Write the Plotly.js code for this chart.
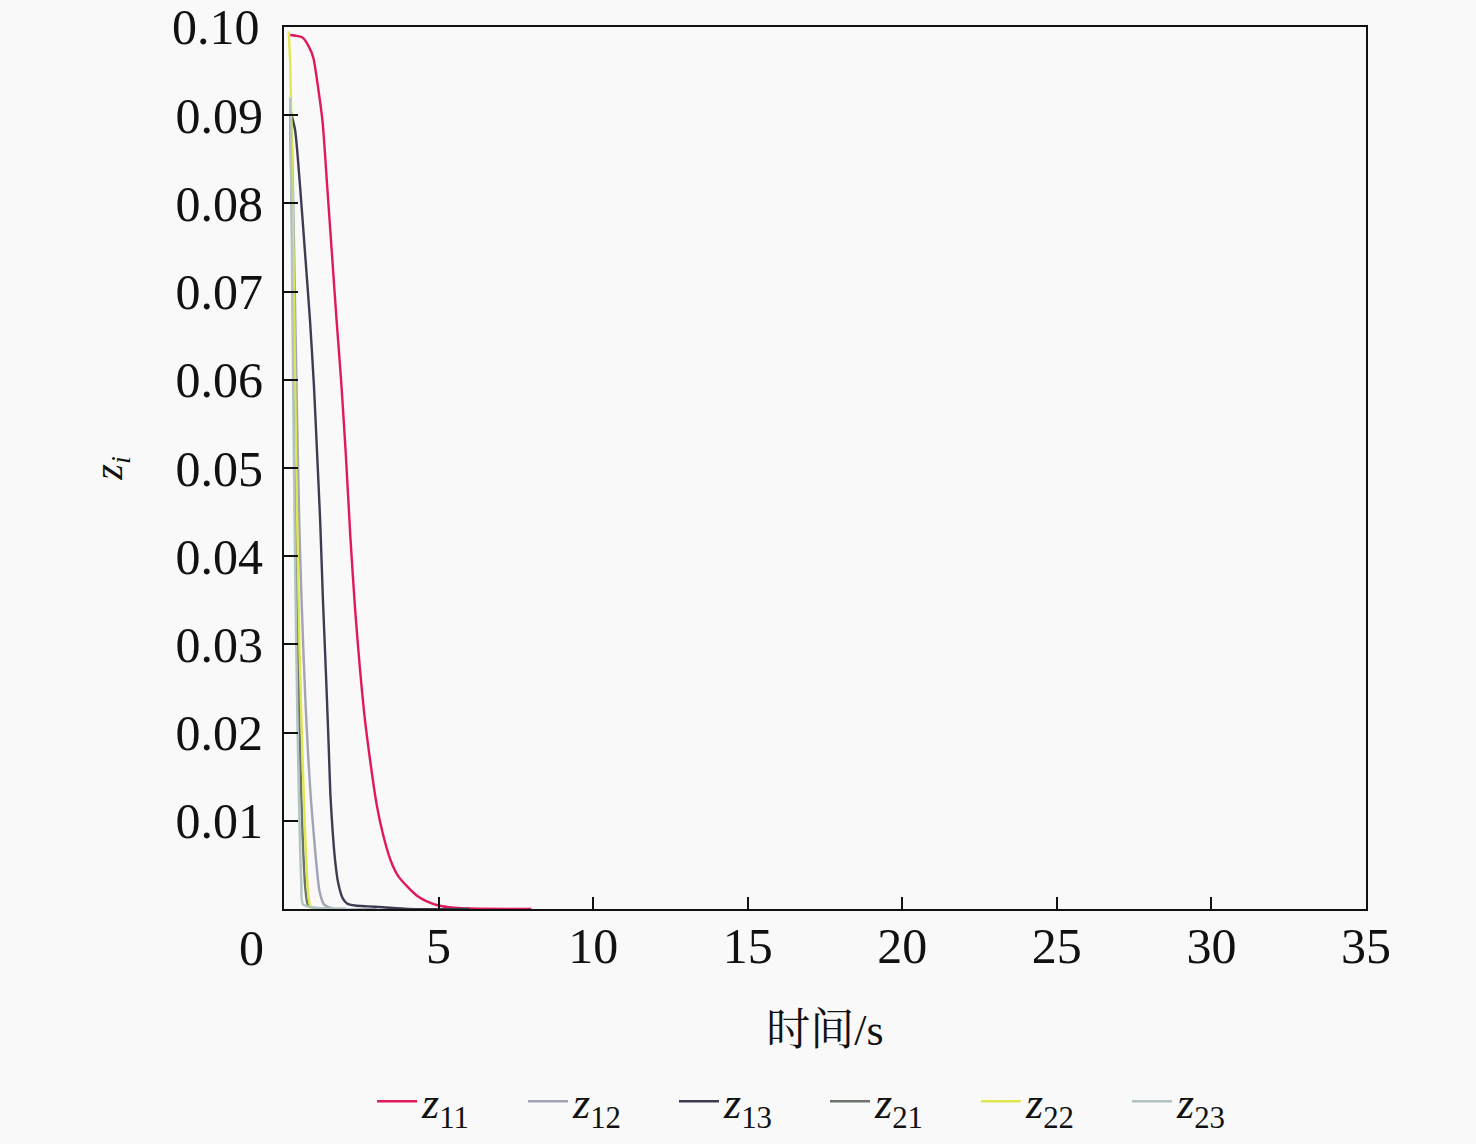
<!DOCTYPE html>
<html>
<head>
<meta charset="utf-8">
<script src="https://cdn.plot.ly/plotly-3.0.1.min.js"></script>
<style>html,body{margin:0;padding:0;background:#f9f9f9;}#chart{width:1476px;height:1144px;}</style>
</head>
<body>
<div id="chart"></div>
<script>
// Data
const seriesNames = ["z11", "z12", "z13", "z21", "z22", "z23"];
const legendLabels = ["<i>z</i><sub>11</sub>", "<i>z</i><sub>12</sub>", "<i>z</i><sub>13</sub>", "<i>z</i><sub>21</sub>", "<i>z</i><sub>22</sub>", "<i>z</i><sub>23</sub>"];

const t11 = [0.2,0.4,0.6,0.8,0.95,1.1,1.25,1.4,1.55,1.7,1.85,2.0,2.15,2.3,2.45,2.6,2.8,3.0,3.2,3.45,3.7,4.0,4.3,4.6,5.0,5.5,6.0,8.0];
const z11 = [0.0991,0.0990,0.0988,0.0978,0.0965,0.0932,0.0892,0.0818,0.0743,0.0668,0.0598,0.0515,0.0420,0.0340,0.0275,0.0220,0.0165,0.0118,0.0085,0.0055,0.0037,0.0025,0.0015,0.0009,0.0004,0.00015,0.00005,0];

const t12 = [0.2,0.25,0.3,0.35,0.4,0.45,0.5,0.56,0.63,0.7,0.78,0.86,0.95,1.05,1.15,1.3,1.6,3.0];
const z12 = [0.0915,0.0880,0.0800,0.0700,0.0600,0.0510,0.0430,0.0360,0.0290,0.0230,0.0175,0.0130,0.0090,0.0050,0.0020,0.0005,0,0];

const t13 = [0.2,0.36,0.52,0.68,0.84,0.97,1.07,1.17,1.26,1.33,1.39,1.45,1.5,1.57,1.65,1.75,1.9,2.05,2.3,2.7,3.2,4.0,6.0];
const z13 = [0.0906,0.0883,0.0819,0.0744,0.0668,0.0592,0.0517,0.0440,0.0350,0.0290,0.0237,0.0180,0.0130,0.0090,0.0056,0.0030,0.0012,0.0006,0.0004,0.0003,0.0002,0,0];

const t21 = [0.2,0.25,0.3,0.35,0.4,0.45,0.5,0.55,0.6,0.65,0.7,0.8,2.0];
const z21 = [0.0900,0.0800,0.0660,0.0530,0.0410,0.0300,0.0210,0.0140,0.0085,0.0045,0.0020,0.0003,0];

const t22 = [0.15,0.2,0.25,0.3,0.35,0.4,0.45,0.5,0.56,0.62,0.68,0.74,0.8,0.9,2.0];
const z22 = [0.0995,0.0960,0.0870,0.0750,0.0620,0.0500,0.0390,0.0300,0.0220,0.0150,0.0090,0.0040,0.0012,0,0];

const t23 = [0.2,0.24,0.28,0.32,0.36,0.4,0.44,0.48,0.52,0.56,0.62,2.0];
const z23 = [0.0920,0.0800,0.0650,0.0510,0.0390,0.0290,0.0200,0.0130,0.0070,0.0030,0.0005,0];

const xTickVals = [5,10,15,20,25,30,35];
const xTickText = ["5","10","15","20","25","30","35"];
const yTickVals = [0.01,0.02,0.03,0.04,0.05,0.06,0.07,0.08,0.09,0.10];
const yTickText = ["0.01","0.02","0.03","0.04","0.05","0.06","0.07","0.08","0.09","0.10"];

const colors = ["#e0195a", "#a0a4b4", "#3c3c52", "#6a746a", "#e2e650", "#b0c4c4"];
const xs = [t11, t12, t13, t21, t22, t23];
const ys = [z11, z12, z13, z21, z22, z23];

const traces = seriesNames.map((n, i) => ({
  type: "scatter", mode: "lines", name: legendLabels[i],
  x: xs[i], y: ys[i],
  line: {color: colors[i], width: 2.4, shape: "spline", smoothing: 0.6}
}));

const serif = "Liberation Serif, Times New Roman, serif";
const cjk = "Liberation Serif, Noto Serif CJK SC, Noto Sans CJK SC, serif";

const layout = {
  width: 1476, height: 1144,
  margin: {l: 284, r: 110, t: 27, b: 235, autoexpand: false},
  paper_bgcolor: "#f9f9f9", plot_bgcolor: "#f9f9f9",
  font: {family: serif, color: "#111", size: 38},
  showlegend: true,
  legend: {orientation: "h", xref: "paper", x: 0.5, xanchor: "center",
           yref: "container", y: 0.037, yanchor: "middle",
           font: {family: serif, size: 44, color: "#111"}, entrywidth: 96, entrywidthmode: "pixels",
           itemwidth: 40, bgcolor: "rgba(0,0,0,0)"},
  xaxis: {
    range: [0, 35], tickmode: "array", tickvals: xTickVals, ticktext: xTickText,
    ticks: "inside", ticklen: 12, tickwidth: 2, tickcolor: "#111",
    showline: true, linewidth: 2, linecolor: "#111", mirror: true,
    showgrid: false, zeroline: false,
    tickfont: {family: serif, size: 50, color: "#111"}, ticklabelstandoff: -8,
    title: {text: "时间<span style=\"font-family:Liberation Serif\">/s</span>", font: {family: cjk, size: 44, color: "#111"}, standoff: 41}
  },
  yaxis: {
    range: [0, 0.1], tickmode: "array", tickvals: yTickVals, ticktext: yTickText,
    ticks: "inside", ticklen: 14, tickwidth: 2, tickcolor: "#111",
    showline: true, linewidth: 2, linecolor: "#111", mirror: true,
    showgrid: false, zeroline: false,
    tickfont: {family: serif, size: 50, color: "#111"}, ticklabelstandoff: 9,
    title: {text: "<i>z</i><sub><i>i</i></sub>", font: {family: serif, size: 40, color: "#111"}, standoff: 41}
  },
  annotations: [{
    xref: "paper", yref: "paper", x: -0.0296, y: 0, text: "0", showarrow: false,
    xanchor: "center", yanchor: "middle", yshift: -39,
    font: {family: serif, size: 50, color: "#111"}
  }, {
    xref: "paper", yref: "paper", x: 0, y: 1, text: "0.10", showarrow: false,
    xanchor: "right", yanchor: "middle", xshift: -22, yshift: 0,
    font: {family: serif, size: 50, color: "#111"}
  }]
};

Plotly.newPlot("chart", traces, layout, {displayModeBar: false, staticPlot: true});
</script>
</body>
</html>
